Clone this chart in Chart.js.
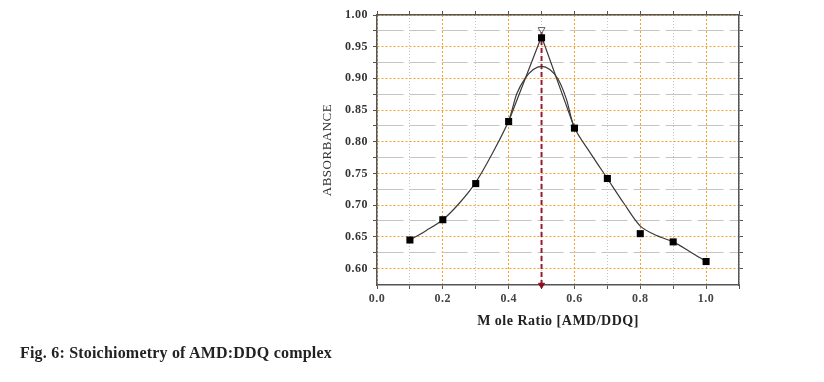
<!DOCTYPE html>
<html>
<head>
<meta charset="utf-8">
<script src="https://cdn.jsdelivr.net/npm/chart.js@4.4.1/dist/chart.umd.min.js"></script>
<style>
  html, body { margin: 0; padding: 0; background: #fff; }
  #wrap { position: relative; width: 824px; height: 382px; }
  #caption {
    position: absolute; left: 20px; top: 344px;
    font: bold 16px 'Liberation Serif', 'Times New Roman', serif;
    letter-spacing: 0.2px;
    line-height: 18px; color: #222; white-space: nowrap;
  }
</style>
</head>
<body>
<div id="wrap">
  <canvas id="myChart" width="824" height="382"></canvas>
  <div id="caption">Fig. 6: Stoichiometry of AMD:DDQ complex</div>
</div>
<script>
/*====== data =======*/
const ratio = [0.1, 0.2, 0.3, 0.4, 0.5, 0.6, 0.7, 0.8, 0.9, 1.0];
const absorbance = [0.645, 0.677, 0.734, 0.832, 0.964, 0.8215, 0.742, 0.655, 0.642, 0.611];

// fitted curve
const fitX = [0.1, 0.15, 0.2, 0.25, 0.3, 0.35, 0.4, 0.425, 0.45, 0.475, 0.5, 0.525, 0.55, 0.575, 0.6, 0.65, 0.7, 0.75, 0.8, 0.85, 0.9, 0.95, 1.0];
const fitY = [0.645, 0.660, 0.677, 0.703, 0.736, 0.781, 0.833, 0.876, 0.900, 0.914, 0.919, 0.914, 0.899, 0.868, 0.822, 0.781, 0.742, 0.703, 0.667, 0.652, 0.642, 0.627, 0.611];

// tangent lines meeting at the peak
const tangentX = [0.4, 0.5, 0.6];
const tangentY = [0.832, 0.966, 0.8215];

// dashed marker at the stoichiometric point
const markerX = [0.5, 0.5];
const markerY = [0.574, 0.977];

const xTicks = [0, 0.1, 0.2, 0.3, 0.4, 0.5, 0.6, 0.7, 0.8, 0.9, 1.0, 1.1];
const yTicks = [0.6, 0.625, 0.65, 0.675, 0.7, 0.725, 0.75, 0.775, 0.8, 0.825, 0.85, 0.875, 0.9, 0.925, 0.95, 0.975, 1.0];

/*====== helpers =======*/
const serif = "'Liberation Serif', 'Times New Roman', serif";
const orange = '#f5a02a';
const gray = '#c4c4c4';
const axisCol = '#555';

function pts(xs, ys) { return xs.map((x, i) => ({x: x, y: ys[i]})); }
function xMajor(v) { return Math.round(v * 10) % 2 === 0; }
function yMajor(v) { return Math.round(v * 1000) % 50 === 0; }

// the original figure has loosely spaced lettering
const spacing = {
  id: 'spacing',
  beforeDraw: chart => { chart.ctx.letterSpacing = '0.5px'; }
};

/*====== chart =======*/
const data = {
  datasets: [
    {
      label: 'fit',
      data: pts(fitX, fitY),
      showLine: true,
      borderColor: '#3a3a3a',
      borderWidth: 1.2,
      pointRadius: 0,
      tension: 0.3,
      order: 3
    },
    {
      label: 'tangent',
      data: pts(tangentX, tangentY),
      showLine: true,
      borderColor: '#3a3a3a',
      borderWidth: 1.2,
      pointRadius: 0,
      tension: 0,
      order: 2
    },
    {
      label: 'marker',
      data: pts(markerX, markerY),
      showLine: true,
      borderColor: '#9b1c2c',
      borderWidth: 2,
      borderDash: [5, 3],
      pointStyle: 'triangle',
      rotation: 180,
      pointRadius: [3.5, 4],
      pointBackgroundColor: ['#8b1020', 'rgba(0,0,0,0)'],
      pointBorderColor: ['#8b1020', '#666'],
      pointBorderWidth: 1,
      clip: false,
      order: 4
    },
    {
      label: 'absorbance',
      data: pts(ratio, absorbance),
      showLine: false,
      pointStyle: 'rect',
      pointRadius: 5,
      pointBackgroundColor: '#000',
      pointBorderColor: '#000',
      pointBorderWidth: 0,
      order: 1
    }
  ]
};

const config = {
  type: 'scatter',
  data: data,
  plugins: [spacing],
  options: {
    responsive: false,
    animation: false,
    events: [],
    layout: { padding: { left: 300, right: 85, top: 15, bottom: 47 } },
    plugins: { legend: { display: false }, tooltip: { enabled: false } },
    scales: {
      x: {
        type: 'linear', position: 'bottom', min: 0, max: 1.1,
        afterBuildTicks: s => { s.ticks = xTicks.map(v => ({value: v})); },
        afterFit: s => { s.height = 50; },
        grid: {
          color: c => xMajor(c.tick.value) ? orange : gray,
          lineWidth: 1,
          tickColor: axisCol, tickLength: 4, tickWidth: 1
        },
        border: {
          display: true, color: axisCol, width: 1.5,
          dash: c => (c.tick ? (xMajor(c.tick.value) ? [2, 2] : [1, 2]) : [])
        },
        ticks: {
          autoSkip: false, maxRotation: 0, padding: 3,
          color: '#444', font: { family: serif, size: 12, weight: 'bold' },
          callback: v => (xMajor(v) && v < 1.05) ? v.toFixed(1) : ''
        },
        title: {
          display: true, text: 'M ole Ratio [AMD/DDQ]', color: '#222',
          font: { family: serif, size: 14, weight: 'bold' },
          padding: { top: 0, bottom: 5 }
        }
      },
      x2: {
        type: 'linear', position: 'top', min: 0, max: 1.1,
        afterBuildTicks: s => { s.ticks = xTicks.map(v => ({value: v})); },
        afterFit: s => { s.height = 0; },
        grid: { drawOnChartArea: false, tickColor: axisCol, tickLength: 4 },
        border: { display: true, color: axisCol, width: 1.5 },
        ticks: { display: false }
      },
      y: {
        type: 'linear', position: 'left', min: 0.574, max: 1.0,
        afterBuildTicks: s => { s.ticks = yTicks.map(v => ({value: v})); },
        afterFit: s => { s.width = 77; },
        grid: {
          color: c => yMajor(c.tick.value) ? orange : gray,
          lineWidth: 1,
          tickColor: axisCol, tickLength: 4, tickWidth: 1
        },
        border: {
          display: true, color: axisCol, width: 1.5,
          dash: c => (c.tick ? (yMajor(c.tick.value) ? [2, 2] : [26, 6]) : [])
        },
        ticks: {
          autoSkip: false, padding: 5,
          color: '#333', font: { family: serif, size: 12, weight: 'bold' },
          callback: v => yMajor(v) ? v.toFixed(2) : ''
        },
        title: {
          display: true, text: 'ABSORBANCE', color: '#333',
          font: { family: serif, size: 13 },
          padding: { top: 20, bottom: 0 }
        }
      },
      y2: {
        type: 'linear', position: 'right', min: 0.574, max: 1.0,
        afterBuildTicks: s => { s.ticks = yTicks.map(v => ({value: v})); },
        afterFit: s => { s.width = 0; },
        grid: { drawOnChartArea: false, tickColor: axisCol, tickLength: 4 },
        border: { display: true, color: axisCol, width: 1.5 },
        ticks: { display: false }
      }
    }
  }
};

const myChart = new Chart(document.getElementById('myChart'), config);
</script>
</body>
</html>
